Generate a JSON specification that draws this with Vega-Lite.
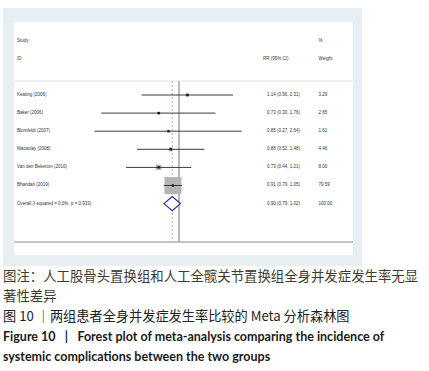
{
  "$schema": "https://vega.github.io/schema/vega-lite/v6.json",
  "padding": {"left": 3, "top": 8, "right": 0, "bottom": 0},
  "spacing": 0,
  "background": "white",
  "config": {"view": {"stroke": null}},
  "datasets": {
    "studies": [
      {"row": 1, "study": "Keating (2006)", "rr": 1.14, "lo": 0.56, "hi": 2.31, "weight": 3.29, "rrtext": "1.14 (0.56, 2.31)", "wtext": "3.29", "type": "study"},
      {"row": 2, "study": "Baker (2006)", "rr": 0.73, "lo": 0.30, "hi": 1.76, "weight": 2.65, "rrtext": "0.73 (0.30, 1.76)", "wtext": "2.65", "type": "study"},
      {"row": 3, "study": "Blomfeldt (2007)", "rr": 0.85, "lo": 0.27, "hi": 2.64, "weight": 1.61, "rrtext": "0.85 (0.27, 2.64)", "wtext": "1.61", "type": "study"},
      {"row": 4, "study": "Macaulay (2008)", "rr": 0.88, "lo": 0.52, "hi": 1.48, "weight": 4.46, "rrtext": "0.88 (0.52, 1.48)", "wtext": "4.46", "type": "study"},
      {"row": 5, "study": "Van den Bekerom (2010)", "rr": 0.73, "lo": 0.44, "hi": 1.21, "weight": 8.00, "rrtext": "0.73 (0.44, 1.21)", "wtext": "8.00", "type": "study"},
      {"row": 6, "study": "Bhandari (2019)", "rr": 0.91, "lo": 0.79, "hi": 1.05, "weight": 79.59, "rrtext": "0.91 (0.79, 1.05)", "wtext": "79.59", "type": "study"},
      {"row": 7, "study": "Overall  (I-squared = 0.0%, p = 0.933)", "rr": 0.90, "lo": 0.79, "hi": 1.02, "weight": 100, "rrtext": "0.90 (0.79, 1.02)", "wtext": "100.00", "type": "overall"}
    ],
    "captions": [
      {"line": 1, "text": "图注：人工股骨头置换组和人工全髋关节置换组全身并发症发生率无显", "style": "note"},
      {"line": 2, "text": "著性差异", "style": "note"},
      {"line": 3, "text": "图 10 ｜两组患者全身并发症发生率比较的 Meta 分析森林图", "style": "cn"},
      {"line": 4, "text": "Figure 10\u2002 |\u2002 Forest plot of meta-analysis comparing the incidence of", "style": "en"},
      {"line": 5, "text": "systemic complications between the two groups", "style": "en"}
    ]
  },
  "vconcat": [
    {
      "width": 359,
      "height": 258,
      "view": {"fill": "#e7eff2", "stroke": null},
      "encoding": {
        "x": {"type": "quantitative", "scale": {"type": "log", "domain": [0.0653, 17.07], "nice": false, "zero": false},
              "axis": {"orient": "bottom", "offset": -24, "values": [0.272, 1, 3.68], "domain": false, "grid": false, "tickSize": 3, "tickColor": "#777777", "tickWidth": 0.8, "labelFontSize": 4, "labelFont": "Liberation Sans", "labelColor": "#444444", "labelPadding": 1, "title": null, "labelFlush": false, "labelOverlap": false, "labelExpr": "datum.value < 0.5 ? '.272' : (datum.value < 2 ? '1' : '3.68')"}},
        "y": {"type": "quantitative", "scale": {"domain": [-3.807, 10.448], "reverse": true, "nice": false, "zero": false}, "axis": null}
      },
      "layer": [
        {
          "data": {"values": [{}]},
          "mark": {"type": "rect", "color": "white"},
          "encoding": {"x": {"datum": 0.0774}, "x2": {"datum": 14.85}, "y": {"datum": -3.033}, "y2": {"datum": 9.84}}
        },
        {
          "data": {"values": [{}]},
          "mark": {"type": "rule", "color": "#e2e2e2", "strokeWidth": 1},
          "encoding": {"x": {"datum": 0.0774}, "x2": {"datum": 14.85}, "y": {"datum": 0.2265}}
        },
        {
          "data": {"values": [{}]},
          "mark": {"type": "rule", "color": "#8a8a8a", "strokeWidth": 1},
          "encoding": {"x": {"datum": 0.0774}, "x2": {"datum": 14.85}, "y": {"datum": 9.122}}
        },
        {
          "data": {"values": [{}]},
          "mark": {"type": "rule", "color": "#a9a9a9", "strokeWidth": 1.6},
          "encoding": {"x": {"datum": 1}, "y": {"datum": 0.2265}, "y2": {"datum": 9.122}}
        },
        {
          "data": {"name": "studies"},
          "transform": [{"filter": "datum.type == 'overall'"}],
          "mark": {"type": "rule", "color": "#c98585", "strokeWidth": 0.8, "strokeDash": [2, 2]},
          "encoding": {"x": {"field": "rr"}, "y": {"datum": 0.2265}, "y2": {"datum": 9.122}}
        },
        {
          "data": {"name": "studies"},
          "transform": [{"filter": "datum.type == 'study'"}],
          "mark": {"type": "square", "color": "#b5b5b5", "opacity": 1},
          "encoding": {
            "x": {"field": "rr"},
            "y": {"field": "row"},
            "size": {"field": "weight", "type": "quantitative", "scale": {"type": "linear", "domain": [0, 79.59], "range": [0, 289], "zero": true}, "legend": null}
          }
        },
        {
          "data": {"name": "studies"},
          "transform": [{"filter": "datum.type == 'study'"}],
          "mark": {"type": "rule", "color": "#3a3a3a", "strokeWidth": 1},
          "encoding": {"x": {"field": "lo"}, "x2": {"field": "hi"}, "y": {"field": "row"}}
        },
        {
          "data": {"name": "studies"},
          "transform": [{"filter": "datum.type == 'study'"}],
          "mark": {"type": "square", "color": "#111111", "size": 5, "opacity": 1},
          "encoding": {"x": {"field": "rr"}, "y": {"field": "row"}}
        },
        {
          "data": {"name": "studies"},
          "transform": [{"filter": "datum.type == 'overall'"}],
          "mark": {"type": "point", "shape": "M-1,0L0,-0.85L1,0L0,0.85Z", "size": 272, "fill": "white", "stroke": "#2b2b88", "strokeWidth": 1.2, "filled": false, "opacity": 1},
          "encoding": {"x": {"field": "rr"}, "y": {"field": "row"}}
        },
        {
          "data": {"name": "studies"},
          "mark": {"type": "text", "align": "left", "baseline": "middle", "font": "Liberation Sans", "fontSize": 4.5, "color": "#333333"},
          "encoding": {"x": {"datum": 0.0811}, "y": {"field": "row"}, "text": {"field": "study"}}
        },
        {
          "data": {"name": "studies"},
          "mark": {"type": "text", "align": "left", "baseline": "middle", "font": "Liberation Sans", "fontSize": 4.5, "color": "#333333"},
          "encoding": {"x": {"datum": 3.913}, "y": {"field": "row"}, "text": {"field": "rrtext"}}
        },
        {
          "data": {"name": "studies"},
          "mark": {"type": "text", "align": "left", "baseline": "middle", "font": "Liberation Sans", "fontSize": 4.5, "color": "#333333"},
          "encoding": {"x": {"datum": 8.695}, "y": {"field": "row"}, "text": {"field": "wtext"}}
        },
        {
          "data": {"values": [{"row": -2, "label": "Study"}, {"row": -1, "label": "ID"}]},
          "mark": {"type": "text", "align": "left", "baseline": "middle", "font": "Liberation Sans", "fontSize": 4.5, "color": "#333333"},
          "encoding": {"x": {"datum": 0.0811}, "y": {"field": "row"}, "text": {"field": "label"}}
        },
        {
          "data": {"values": [{"row": -1, "label": "RR (95% CI)"}]},
          "mark": {"type": "text", "align": "left", "baseline": "middle", "font": "Liberation Sans", "fontSize": 4.5, "color": "#333333"},
          "encoding": {"x": {"datum": 3.678}, "y": {"field": "row"}, "text": {"field": "label"}}
        },
        {
          "data": {"values": [{"row": -2, "label": "%"}, {"row": -1, "label": "Weight"}]},
          "mark": {"type": "text", "align": "left", "baseline": "middle", "font": "Liberation Sans", "fontSize": 4.5, "color": "#333333"},
          "encoding": {"x": {"datum": 8.695}, "y": {"field": "row"}, "text": {"field": "label"}}
        }
      ]
    },
    {
      "width": 426,
      "height": 100,
      "data": {"name": "captions"},
      "encoding": {
        "x": {"type": "quantitative", "scale": {"domain": [0, 1], "nice": false, "zero": false}, "axis": null},
        "y": {"field": "line", "type": "quantitative", "scale": {"domain": [0.45, 5.45], "reverse": true, "nice": false, "zero": false}, "axis": null},
        "text": {"field": "text"}
      },
      "layer": [
        {
          "transform": [{"filter": "datum.style == 'note'"}],
          "mark": {"type": "text", "align": "left", "baseline": "middle", "font": "Noto Sans CJK SC", "fontSize": 13.4, "color": "#3e3b2f"},
          "encoding": {"x": {"datum": 0}}
        },
        {
          "transform": [{"filter": "datum.style == 'cn'"}],
          "mark": {"type": "text", "align": "left", "baseline": "middle", "font": "Noto Sans CJK SC", "fontSize": 13.2, "color": "#222222"},
          "encoding": {"x": {"datum": 0}}
        },
        {
          "transform": [{"filter": "datum.style == 'en'"}],
          "mark": {"type": "text", "align": "left", "baseline": "middle", "font": "Lato", "fontWeight": "bold", "fontSize": 12.5, "color": "#1a1a1a"},
          "encoding": {"x": {"datum": 0}}
        }
      ]
    }
  ]
}
